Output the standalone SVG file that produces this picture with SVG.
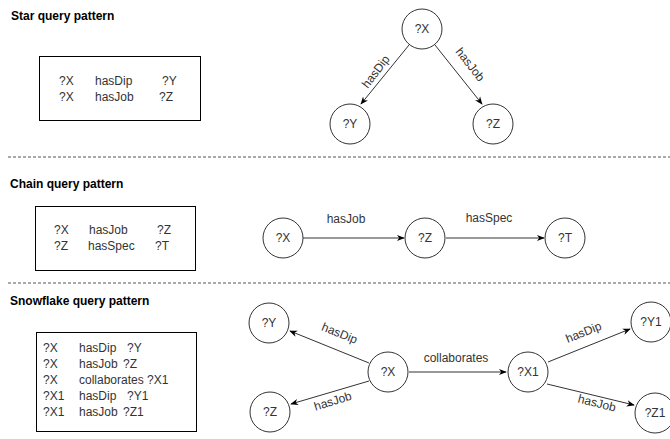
<svg xmlns="http://www.w3.org/2000/svg" width="670" height="439" viewBox="0 0 670 439">
<style>
text{font-family:"Liberation Sans",Arial,sans-serif;font-size:12px;fill:#333}
.title{font-weight:bold;fill:#000}
.node circle{fill:#fff;stroke:#333;stroke-width:1}
.node text{text-anchor:middle;dominant-baseline:central}
.box{fill:#fff;stroke:#000;stroke-width:1}
.edge{stroke:#333;stroke-width:1;fill:none;marker-end:url(#arr)}
.lbl{text-anchor:middle}
.sep{stroke:#555;stroke-width:1;stroke-dasharray:3,2}
</style>
<defs>
<marker id="arr" viewBox="0 0 10 10" refX="9" refY="5" markerWidth="8" markerHeight="8" orient="auto" markerUnits="userSpaceOnUse">
<path d="M0,1 L10,5 L0,9 L3,5 Z" fill="#000"/>
</marker>
</defs>
<rect width="670" height="439" fill="#fff"/>

<g id="separators">
<line class="sep" x1="8" y1="157" x2="670" y2="157"/>
<line class="sep" x1="8" y1="283" x2="670" y2="283"/>
</g>

<g id="titles">
<text class="title" x="11" y="20">Star query pattern</text>
<text class="title" x="10" y="188">Chain query pattern</text>
<text class="title" x="10" y="305">Snowflake query pattern</text>
</g>

<g id="box-star">
<rect class="box" x="39.5" y="56.5" width="161" height="64"/>
<text x="59" y="85">?X</text><text x="95" y="85">hasDip</text><text x="162" y="85">?Y</text>
<text x="59" y="101">?X</text><text x="95" y="101">hasJob</text><text x="159" y="101">?Z</text>
</g>

<g id="box-chain">
<rect class="box" x="35.5" y="206.5" width="160" height="64"/>
<text x="54" y="234">?X</text><text x="89" y="234">hasJob</text><text x="157" y="234">?Z</text>
<text x="54" y="250">?Z</text><text x="88" y="250">hasSpec</text><text x="155" y="250">?T</text>
</g>

<g id="box-snow">
<rect class="box" x="36.5" y="332.5" width="160" height="99"/>
<text x="43" y="352">?X</text><text x="79" y="352">hasDip</text><text x="127" y="352">?Y</text>
<text x="43" y="368">?X</text><text x="79" y="368">hasJob</text><text x="123" y="368">?Z</text>
<text x="43" y="384">?X</text><text x="79" y="384">collaborates ?X1</text>
<text x="43" y="400">?X1</text><text x="79" y="400">hasDip</text><text x="127" y="400">?Y1</text>
<text x="43" y="416">?X1</text><text x="79" y="416">hasJob</text><text x="123" y="416">?Z1</text>
</g>

<g id="connectors">
<line class="edge" x1="409" y1="45" x2="361" y2="104"/>
<line class="edge" x1="435" y1="45" x2="482" y2="104"/>
<line class="edge" x1="303" y1="238" x2="404" y2="238"/>
<line class="edge" x1="446" y1="238" x2="544" y2="238"/>
<line class="edge" x1="369" y1="363" x2="290" y2="331"/>
<line class="edge" x1="369" y1="381" x2="291" y2="404"/>
<line class="edge" x1="409" y1="372" x2="506" y2="372"/>
<line class="edge" x1="548" y1="362" x2="630" y2="329"/>
<line class="edge" x1="547" y1="384" x2="634" y2="405"/>
<text class="lbl" transform="translate(379,74) rotate(-53)">hasDip</text>
<text class="lbl" transform="translate(467,67) rotate(52)">hasJob</text>
<text class="lbl" x="346" y="223">hasJob</text>
<text class="lbl" x="489" y="222">hasSpec</text>
<text class="lbl" transform="translate(338,337) rotate(22)">hasDip</text>
<text class="lbl" transform="translate(334,405) rotate(-17)">hasJob</text>
<text class="lbl" x="456" y="362">collaborates</text>
<text class="lbl" transform="translate(585,336) rotate(-22)">hasDip</text>
<text class="lbl" transform="translate(596,407) rotate(14)">hasJob</text>
</g>

<g id="star-X" class="node"><circle cx="422" cy="29" r="20"/><text x="422" y="29">?X</text></g>
<g id="star-Y" class="node"><circle cx="350" cy="124" r="20"/><text x="350" y="124">?Y</text></g>
<g id="star-Z" class="node"><circle cx="493" cy="124" r="20"/><text x="493" y="124">?Z</text></g>

<g id="chain-X" class="node"><circle cx="283" cy="238" r="20"/><text x="283" y="238">?X</text></g>
<g id="chain-Z" class="node"><circle cx="425" cy="238" r="20"/><text x="425" y="238">?Z</text></g>
<g id="chain-T" class="node"><circle cx="565" cy="238" r="20"/><text x="565" y="238">?T</text></g>

<g id="snow-Y" class="node"><circle cx="269" cy="323" r="20"/><text x="269" y="323">?Y</text></g>
<g id="snow-Z" class="node"><circle cx="270" cy="412" r="20"/><text x="270" y="412">?Z</text></g>
<g id="snow-X" class="node"><circle cx="388" cy="372" r="20"/><text x="388" y="372">?X</text></g>
<g id="snow-X1" class="node"><circle cx="528" cy="372" r="20"/><text x="528" y="372">?X1</text></g>
<g id="snow-Y1" class="node"><circle cx="651" cy="322" r="20"/><text x="651" y="322">?Y1</text></g>
<g id="snow-Z1" class="node"><circle cx="655" cy="413" r="20"/><text x="655" y="413">?Z1</text></g>
</svg>
